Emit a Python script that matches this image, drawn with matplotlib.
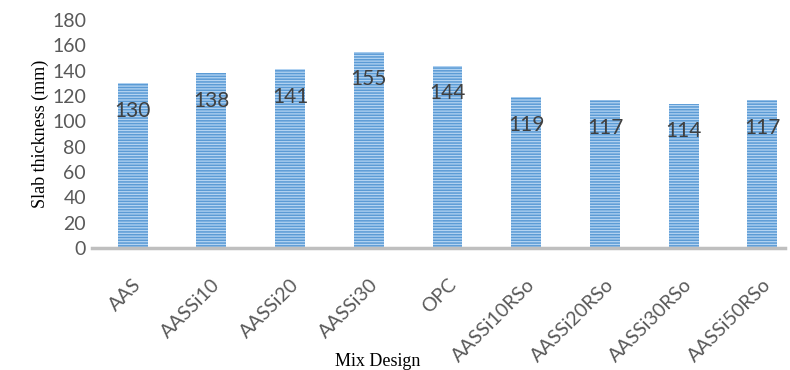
import numpy as np
import matplotlib
matplotlib.use("Agg")
import matplotlib.pyplot as plt

mixes = ["AAS", "AASSi10", "AASSi20", "AASSi30", "OPC",
         "AASSi10RSo", "AASSi20RSo", "AASSi30RSo", "AASSi50RSo"]
thickness = [130, 138, 141, 155, 144, 119, 117, 114, 117]
yticks = [0, 20, 40, 60, 80, 100, 120, 140, 160, 180]

plt.rcParams['hatch.linewidth'] = 1.1

fig = plt.figure(figsize=(7.9, 3.7), dpi=100)
ax = fig.add_axes([0.116, 0.330, 0.878, 0.616])

x = np.arange(len(mixes))
# striped bars: light fill with dense horizontal hatch lines
bars = ax.bar(x, thickness, width=0.38, color='#b4d4f2', edgecolor='#5b9bd5',
              hatch='------', linewidth=0, zorder=2)

# value labels sit inside the bar, a little below the top
for xi, v in zip(x, thickness):
    ax.text(xi, v - 22, str(v), ha='center', va='center', fontsize=15,
            color='#404040', family='Lato', zorder=3)

ax.set_ylim(0, 180)
ax.set_xlim(-0.52, 8.29)
ax.set_yticks(yticks)
ax.set_yticklabels([str(t) for t in yticks], fontsize=14, color='#595959', family='Lato')
ax.set_xticks(x)
ax.set_xticklabels(mixes, rotation=45, ha='right', rotation_mode='anchor',
                   fontsize=14, color='#595959', family='Lato')
ax.tick_params(axis='both', length=0)
ax.tick_params(axis='x', pad=20)
ax.tick_params(axis='y', pad=4)

for s in ['top', 'right', 'left']:
    ax.spines[s].set_visible(False)
ax.spines['bottom'].set_color('#bfbfbf')
ax.spines['bottom'].set_linewidth(2.5)
ax.spines['bottom'].set_zorder(4)

ax.set_ylabel('Slab thickness (mm)', fontsize=13, family='Liberation Serif', labelpad=2)
fig.text(0.478, 0.0, 'Mix Design', ha='center', va='bottom', fontsize=13,
         family='Liberation Serif')

plt.savefig('out.png', dpi=100)
